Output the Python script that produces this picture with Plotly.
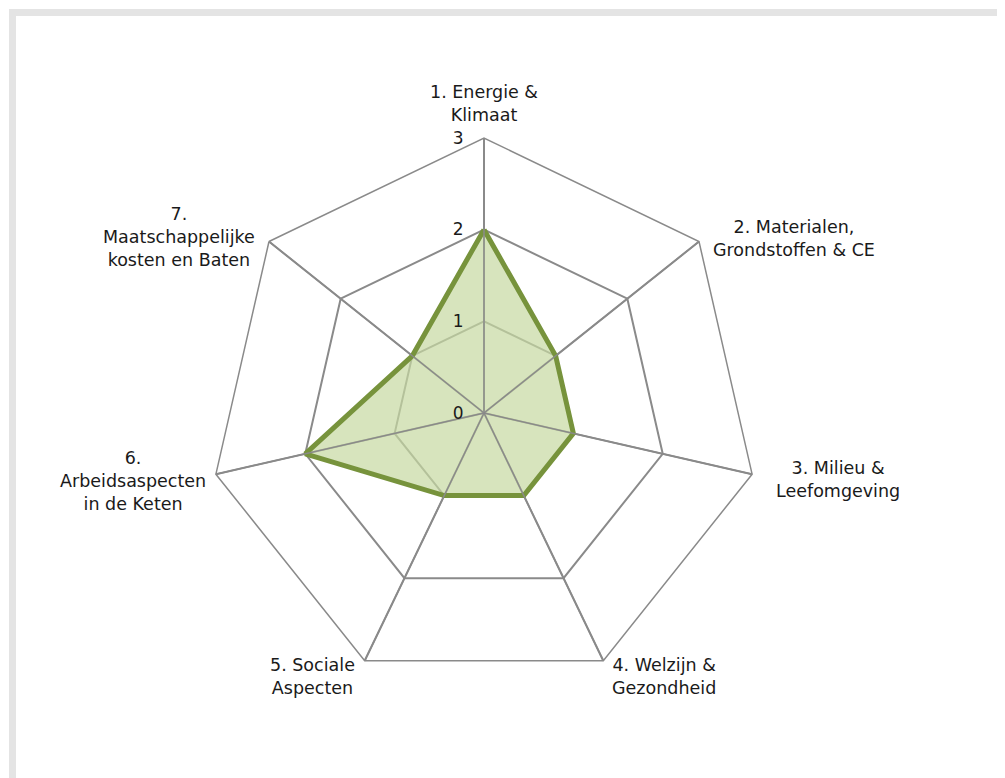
import math
import plotly.graph_objects as go

categories = [
    "1. Energie &<br>Klimaat",
    "2. Materialen,<br>Grondstoffen & CE",
    "3. Milieu &<br>Leefomgeving",
    "4. Welzijn &<br>Gezondheid",
    "5. Sociale<br>Aspecten",
    "6.<br>Arbeidsaspecten<br>in de Keten",
    "7.<br>Maatschappelijke<br>kosten en Baten",
]
values = [2, 1, 1, 1, 1, 2, 1]
radial_ticks = [0, 1, 2, 3]

W, H = 1005, 778
# page has an 8px body margin -> figure pixel coords
cx, cy, R = 476, 405, 275
rmax = max(radial_ticks)

# label centre offsets from each outer vertex (pixels, layout only)
label_dx = [0, 95, 86, 61, -52, -83, -90]
label_dy = [-35, -3, 5, 16, 16, 7, -5]

fig = go.Figure()
fig.add_trace(go.Scatterpolar(
    r=values + values[:1],
    theta=categories + categories[:1],
    mode="lines",
    fill="toself",
    fillcolor="rgba(198,216,161,0.7)",
    line=dict(color="#77933c", width=5),
    showlegend=False,
    hoverinfo="skip",
))
# spokes on top of fill
for c in categories:
    fig.add_trace(go.Scatterpolar(
        r=[0, rmax], theta=[c, c], mode="lines",
        line=dict(color="#8a8a8a", width=1.5), showlegend=False, hoverinfo="skip",
    ))

annotations = []
n = len(categories)
for k, c in enumerate(categories):
    th = math.radians(90 - k * 360 / n)
    vx = cx + R * math.cos(th)
    vy = cy - R * math.sin(th)
    px = vx + label_dx[k]
    py = vy + label_dy[k]
    annotations.append(dict(
        x=px / W, y=1 - py / H, xref="paper", yref="paper",
        text=c, showarrow=False, xanchor="center", yanchor="middle",
        align="center", font=dict(family="DejaVu Sans", size=17.5, color="#1a1a1a"),
    ))

fig.update_layout(
    width=W, height=H,
    margin=dict(l=0, r=0, t=0, b=0),
    paper_bgcolor="white",
    font=dict(family="DejaVu Sans", size=16, color="#1a1a1a"),
    polar=dict(
        domain=dict(x=[(cx - R) / W, (cx + R) / W], y=[1 - (cy + R) / H, 1 - (cy - R) / H]),
        bgcolor="white",
        gridshape="linear",
        angularaxis=dict(
            direction="clockwise", rotation=90,
            showline=True, linecolor="#8a8a8a", linewidth=1.5,
            gridcolor="#8a8a8a", gridwidth=1.5,
            ticks="", showticklabels=False,
        ),
        radialaxis=dict(
            range=[0, rmax], tickvals=radial_ticks, angle=90,
            side="counterclockwise",
            showline=False, gridcolor="#8a8a8a", gridwidth=1.5,
            ticks="outside", ticklen=14, tickcolor="rgba(0,0,0,0)",
            tickfont=dict(size=17, color="#1a1a1a"), tickangle=90,
        ),
    ),
    annotations=annotations,
    shapes=[dict(
        type="rect", xref="paper", yref="paper",
        x0=4.5 / W, x1=1.02, y0=-0.03, y1=1 - 4.5 / H,
        line=dict(color="#e4e4e4", width=7), layer="below",
    )],
)

fig.write_html("out.html")
